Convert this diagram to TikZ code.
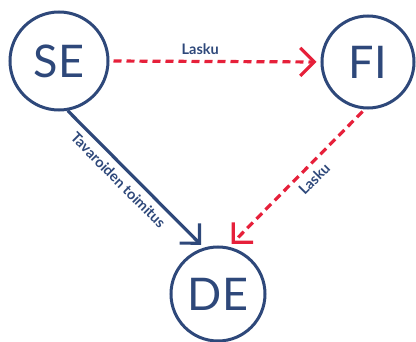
\documentclass[tikz,border=0pt]{standalone}
\usepackage{fontspec}
\setmainfont{Lato}
\usetikzlibrary{arrows.meta}
\definecolor{navy}{RGB}{46,72,122}
\definecolor{flagred}{RGB}{230,32,58}
\begin{document}
\begin{tikzpicture}[x=1pt,y=-1pt]
		\tikzstyle{country} = [circle, draw=navy, line width=3pt, inner sep=0pt, text=navy, font=\fontsize{45}{45}\selectfont]
		\tikzstyle{goods} = [navy, line width=3.2pt, -{Straight Barb[length=14pt, width=28pt]}]
		\tikzstyle{invoice} = [flagred, line width=3.2pt, dash pattern=on 8pt off 5pt, -{Straight Barb[length=14pt, width=28pt]}]
		\tikzstyle{lbl} = [text=navy, font=\fontsize{14.5}{14.5}\selectfont\bfseries, inner sep=2pt]
		\useasboundingbox (0,0) rectangle (416,342);
		\node (se) [country, minimum size=98pt] at (59,61) {SE};
		\node (fi) [country, minimum size=92pt] at (368,62) {FI};
		\node (de) [country, minimum size=94pt] at (218,294) {DE};
		\draw[invoice, shorten <=4pt, shorten >=4pt] (se.east) -- node[lbl, above=3pt, pos=0.43] {Lasku} (fi.west);
		\draw[goods, shorten >=4pt] (se.-80) -- node[lbl, sloped, below=4pt, pos=0.44] {Tavaroiden toimitus} (de.107);
		\draw[invoice, shorten <=3pt, shorten >=4pt] (fi.-94) -- node[lbl, sloped, below=4pt, pos=0.44] {Lasku} (de.77);
	\end{tikzpicture}
\end{document}
